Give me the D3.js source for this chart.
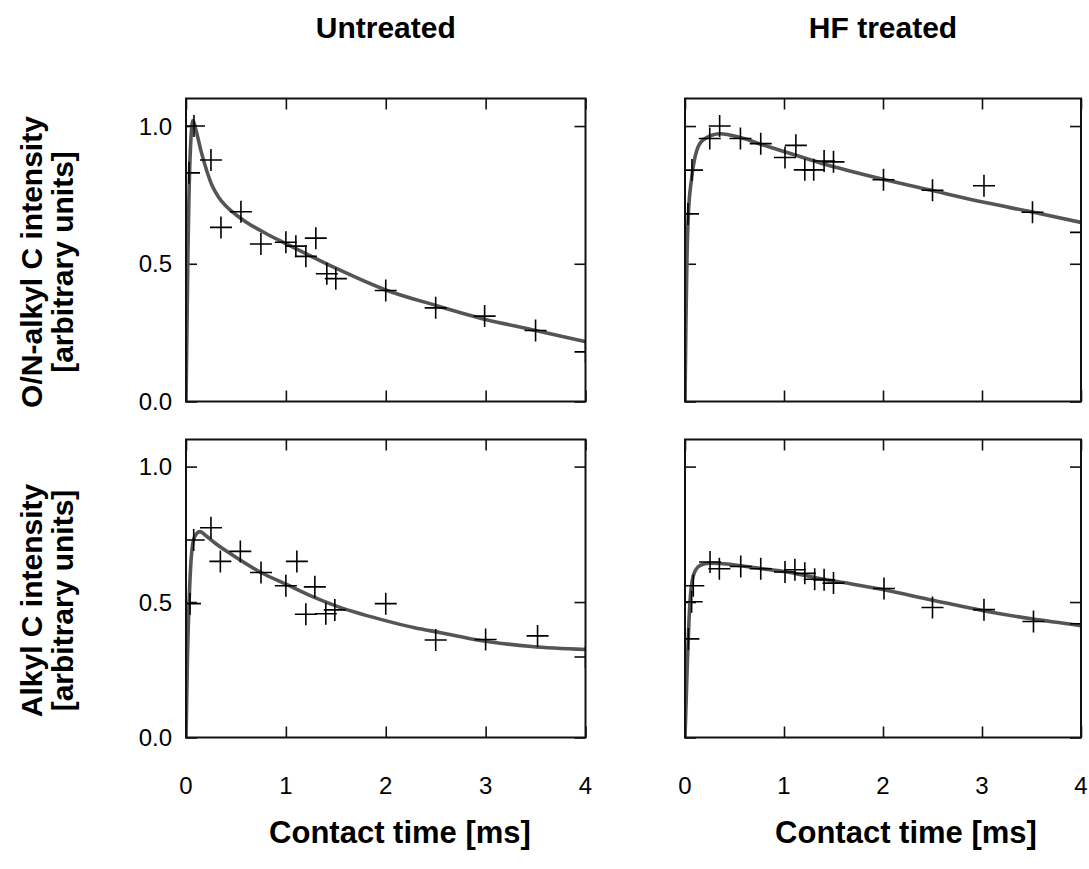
<!DOCTYPE html>
<html>
<head>
<meta charset="utf-8">
<script src="https://cdn.jsdelivr.net/npm/d3@7"></script>
<style>
  body { margin: 0; background: #fff; }
  svg text { font-family: "Liberation Sans", Arial, Helvetica, sans-serif; fill: #000; }
</style>
</head>
<body>
<div id="chart"></div>
<script>
// column / row labels
const colTitles = ["Untreated", "HF treated"];
const rowTitles = [["O/N-alkyl C intensity", "[arbitrary units]"], ["Alkyl C intensity", "[arbitrary units]"]];
const xTicks = [0, 1, 2, 3, 4];
const yTicks = [0, 0.5, 1.0];
const xLabel = "Contact time [ms]";

// measured points [time, intensity]
const onUntreatedPts = [[0.03, 0.83], [0.08, 1.0], [0.25, 0.877], [0.35, 0.632], [0.55, 0.689], [0.75, 0.572],
  [1.0, 0.578], [1.1, 0.564], [1.2, 0.527], [1.3, 0.593], [1.41, 0.464], [1.5, 0.446], [2.0, 0.403],
  [2.5, 0.34], [2.99, 0.31], [3.5, 0.258], [4.0, 0.18]];
const onHFPts = [[0.03, 0.681], [0.07, 0.84], [0.25, 0.955], [0.35, 1.0], [0.56, 0.955], [0.765, 0.936],
  [1.01, 0.886], [1.12, 0.93], [1.21, 0.841], [1.3, 0.841], [1.405, 0.873], [1.5, 0.87], [2.005, 0.805],
  [2.5, 0.767], [3.02, 0.783], [3.51, 0.687], [4.0, 0.614]];
const alkUntreatedPts = [[0.04, 0.494], [0.077, 0.729], [0.25, 0.774], [0.344, 0.65], [0.544, 0.687], [0.751, 0.609],
  [1.0, 0.56], [1.11, 0.65], [1.2, 0.455], [1.29, 0.556], [1.4, 0.457], [1.49, 0.471], [2.0, 0.494],
  [2.5, 0.36], [3.0, 0.362], [3.52, 0.375], [4.0, 0.297]];
const alkHFPts = [[0.034, 0.364], [0.067, 0.501], [0.084, 0.56], [0.253, 0.648], [0.347, 0.623], [0.563, 0.631],
  [0.765, 0.623], [1.01, 0.611], [1.11, 0.619], [1.21, 0.606], [1.31, 0.584], [1.405, 0.582], [1.5, 0.57],
  [2.01, 0.55], [2.5, 0.48], [3.02, 0.472], [3.52, 0.428], [4.0, 0.42]];

// fitted curves
const onUntreatedFit = [[0, 0], [0.02, 0.55], [0.04, 0.88], [0.07, 1.02], [0.1, 0.985], [0.15, 0.91], [0.21, 0.835],
  [0.26, 0.785], [0.33, 0.74], [0.4, 0.71], [0.5, 0.678], [0.6, 0.652], [0.8, 0.61], [1.0, 0.573], [1.2, 0.537],
  [1.5, 0.484], [2.0, 0.405], [2.5, 0.349], [3.0, 0.298], [3.5, 0.258], [4.0, 0.217]];
const onHFFit = [[0, 0], [0.01, 0.3], [0.02, 0.52], [0.034, 0.68], [0.067, 0.81], [0.118, 0.91], [0.185, 0.95],
  [0.354, 0.972], [0.56, 0.958], [0.765, 0.934], [1.03, 0.904], [1.36, 0.867], [2.0, 0.807],
  [2.51, 0.765], [3.02, 0.723], [3.52, 0.687], [4.0, 0.65]];
const alkUntreatedFit = [[0, 0], [0.015, 0.3], [0.033, 0.52], [0.067, 0.714], [0.1, 0.75], [0.14, 0.76],
  [0.2, 0.745], [0.3, 0.715], [0.45, 0.677], [0.75, 0.609], [1.0, 0.566], [1.285, 0.517], [1.5, 0.486],
  [1.95, 0.436], [2.29, 0.405], [2.55, 0.387], [2.95, 0.358], [3.46, 0.336], [4.0, 0.325]];
const alkHFFit = [[0, 0], [0.024, 0.279], [0.04, 0.43], [0.052, 0.51], [0.065, 0.56], [0.08, 0.592],
  [0.1, 0.613], [0.13, 0.629], [0.18, 0.639], [0.25, 0.643], [0.354, 0.642], [0.563, 0.634], [0.765, 0.624],
  [1.03, 0.611], [1.36, 0.587], [1.6, 0.572], [2.0, 0.546], [2.5, 0.507], [3.0, 0.469], [3.5, 0.438], [4.0, 0.413]];

const panels = [
  { row: 0, col: 0, pts: onUntreatedPts, fit: onUntreatedFit },
  { row: 0, col: 1, pts: onHFPts, fit: onHFFit },
  { row: 1, col: 0, pts: alkUntreatedPts, fit: alkUntreatedFit },
  { row: 1, col: 1, pts: alkHFPts, fit: alkHFFit }
];

const W = 1089, H = 869;
const cols = [{ x0: 186, x1: 585.5 }, { x0: 685, x1: 1081 }];
const rows = [{ y0: 98.5, y1: 401.5 }, { y0: 439.5, y1: 737.5 }];
const tick = 11, crossR = 11;

const svg = d3.select("#chart").append("svg")
  .attr("width", W)
  .attr("height", H);

panels.forEach((p, i) => {
  const c = cols[p.col], r = rows[p.row];
  const x = d3.scaleLinear().domain([0, 4]).range([c.x0, c.x1]);
  const y = d3.scaleLinear().domain([0, 1.1]).range([r.y1, r.y0]);

  const clipId = "clip" + i;
  svg.append("clipPath").attr("id", clipId)
    .append("rect")
    .attr("x", c.x0).attr("y", r.y0)
    .attr("width", c.x1 - c.x0).attr("height", r.y1 - r.y0);

  const g = svg.append("g");

  // inward ticks on all four sides
  const axB = g.append("g").attr("transform", "translate(0," + r.y1 + ")")
    .call(d3.axisBottom(x).tickValues(xTicks).tickSize(-tick).tickFormat(""));
  const axT = g.append("g").attr("transform", "translate(0," + r.y0 + ")")
    .call(d3.axisTop(x).tickValues(xTicks).tickSize(-tick).tickFormat(""));
  const axL = g.append("g").attr("transform", "translate(" + c.x0 + ",0)")
    .call(d3.axisLeft(y).tickValues(yTicks).tickSize(-tick).tickFormat(""));
  const axR = g.append("g").attr("transform", "translate(" + c.x1 + ",0)")
    .call(d3.axisRight(y).tickValues(yTicks).tickSize(-tick).tickFormat(""));
  [axB, axT, axL, axR].forEach(a => {
    a.select(".domain").remove();
    a.selectAll("line").attr("stroke", "#111").attr("stroke-width", 1.6);
  });

  // y tick labels only in the left column
  if (p.col === 0) {
    g.selectAll(".ylab").data(yTicks).enter().append("text")
      .attr("x", c.x0 - 14)
      .attr("y", d => y(d))
      .attr("dy", "0.36em")
      .attr("text-anchor", "end")
      .style("font-size", "24px")
      .text(d3.format(".1f"));
  }
  // x tick labels only in the bottom row
  if (p.row === 1) {
    g.selectAll(".xlab").data(xTicks).enter().append("text")
      .attr("x", d => x(d))
      .attr("y", r.y1 + 56)
      .attr("text-anchor", "middle")
      .style("font-size", "24px")
      .text(d => d);
  }

  const plot = g.append("g").attr("clip-path", "url(#" + clipId + ")");

  // fitted line
  const line = d3.line()
    .x(d => x(d[0]))
    .y(d => y(d[1]))
    .curve(d3.curveMonotoneX);
  plot.append("path")
    .datum(p.fit)
    .attr("d", line)
    .attr("fill", "none")
    .attr("stroke", "#555")
    .attr("stroke-width", 3.6)
    .attr("stroke-linejoin", "round");

  // crosses
  plot.selectAll(".pt").data(p.pts).enter().append("path")
    .attr("d", d => {
      const px = x(d[0]), py = y(d[1]);
      return "M" + (px - crossR) + "," + py + "H" + (px + crossR) +
        "M" + px + "," + (py - crossR) + "V" + (py + crossR);
    })
    .attr("stroke", "#000")
    .attr("stroke-width", 1.6)
    .attr("fill", "none");

  // frame
  g.append("rect")
    .attr("x", c.x0).attr("y", r.y0)
    .attr("width", c.x1 - c.x0).attr("height", r.y1 - r.y0)
    .attr("fill", "none")
    .attr("stroke", "#111")
    .attr("stroke-width", 2);
});

// column titles and x axis titles
const xTitleX = [400, 906];
colTitles.forEach((t, i) => {
  svg.append("text")
    .attr("x", (cols[i].x0 + cols[i].x1) / 2)
    .attr("y", 38)
    .attr("text-anchor", "middle")
    .style("font-size", "30px")
    .style("font-weight", "bold")
    .text(t);
  svg.append("text")
    .attr("x", xTitleX[i])
    .attr("y", 843)
    .attr("text-anchor", "middle")
    .style("font-size", "31px")
    .style("font-weight", "bold")
    .text(xLabel);
});

// row titles (rotated)
rowTitles.forEach((lines, i) => {
  const cy = (rows[i].y0 + rows[i].y1) / 2 + 12;
  const t = svg.append("text")
    .attr("transform", "translate(0," + cy + ") rotate(-90)")
    .attr("text-anchor", "middle")
    .style("font-size", "30px")
    .style("font-weight", "bold");
  t.append("tspan").attr("x", 0).attr("y", 42).text(lines[0]);
  t.append("tspan").attr("x", 0).attr("y", 73).text(lines[1]);
});
</script>
</body>
</html>
